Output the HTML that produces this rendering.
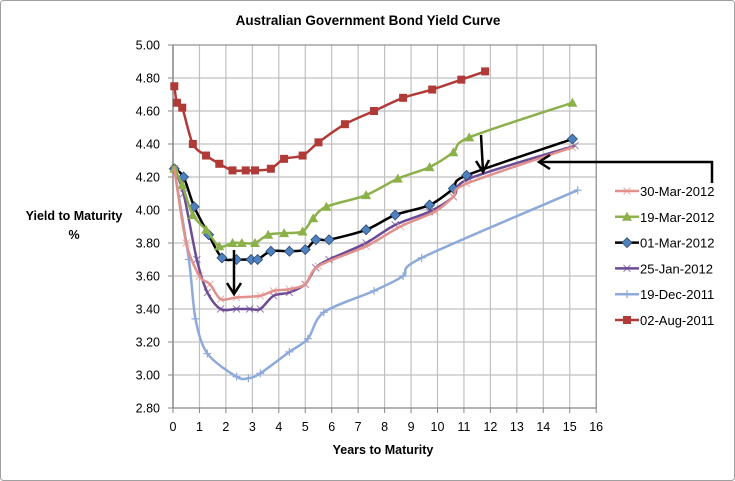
<!DOCTYPE html>
<html><head><meta charset="utf-8"><style>
html,body{margin:0;padding:0;background:#fff}
svg{display:block;font-family:"Liberation Sans",sans-serif}
</style></head><body>
<svg id="s" width="735" height="481" xmlns="http://www.w3.org/2000/svg">
<rect x="0.5" y="0.5" width="734" height="480" rx="3" fill="#fff" stroke="#a0a0a0"/>
<text x="368" y="25" font-size="13.5" font-weight="bold" text-anchor="middle">Australian Government Bond Yield Curve</text>
<g id="grid"></g>
<g id="series"></g>
<text x="74" y="220" font-size="12.5" font-weight="bold" text-anchor="middle">Yield to Maturity</text>
<text x="74" y="239" font-size="12.5" font-weight="bold" text-anchor="middle">%</text>
<text x="383" y="454" font-size="12.5" font-weight="bold" text-anchor="middle">Years to Maturity</text>
<g stroke="#000" stroke-width="2.5" fill="none">
<line x1="234" y1="250" x2="234" y2="293"/><polyline points="227,283 234,294 241,283"/>
<line x1="481" y1="135" x2="483" y2="171"/><polyline points="476,161 483,172 489,160"/>
<polyline points="712,183 712,162 539,162"/><polyline points="550,155 539,162 550,169"/>
</g>
<g id="legend" font-size="13"></g>
</svg>
<script>
const X=t=>173+26.45*t, Y=v=>45+165*(5-v);
const g=document.getElementById('grid'),S=document.getElementById('series'),L=document.getElementById('legend');
let h='';
for(let i=0;i<=16;i++){const x=X(i);h+=`<line x1="${x}" y1="45" x2="${x}" y2="408" stroke="${i==0?'#868686':'#c0c0c0'}" stroke-width="${i==0?1.5:1.2}"/>`;h+=`<line x1="${x}" y1="408" x2="${x}" y2="413" stroke="#868686"/>`;h+=`<text x="${x}" y="431" font-size="12.5" text-anchor="middle">${i}</text>`;}
for(let k=0;k<=11;k++){const v=2.8+k*0.2,y=Y(v);h+=`<line x1="173" y1="${y}" x2="${X(16)}" y2="${y}" stroke="${k==0?'#868686':'#c0c0c0'}" stroke-width="1.2"/>`;h+=`<line x1="168" y1="${y}" x2="173" y2="${y}" stroke="#868686"/>`;h+=`<text x="160" y="${y+4.5}" font-size="12.5" text-anchor="end">${v.toFixed(2)}</text>`;}
h+=`<rect x="173" y="45" width="${X(16)-173}" height="363" fill="none" stroke="#868686"/>`;
g.innerHTML=h;
const data=[
['30-Mar-2012','#e1908b','x',[[0.05,4.25],[0.5,3.80],[1.0,3.60],[1.4,3.55],[1.8,3.46],[2.4,3.47],[3.3,3.48],[3.8,3.51],[4.4,3.52],[5.0,3.55],[5.5,3.66],[7.3,3.78],[8.6,3.90],[9.9,3.99],[10.6,4.08],[11.1,4.16],[15.1,4.38]]],
['19-Mar-2012','#8cb04a','tri',[[0.05,4.25],[0.35,4.15],[0.75,3.97],[1.25,3.88],[1.75,3.78],[2.25,3.80],[2.6,3.80],[3.1,3.80],[3.6,3.85],[4.2,3.86],[4.9,3.87],[5.3,3.95],[5.8,4.02],[7.3,4.09],[8.5,4.19],[9.7,4.26],[10.6,4.35],[11.2,4.44],[15.1,4.65]]],
['01-Mar-2012','#000','dia',[[0.05,4.25],[0.4,4.20],[0.8,4.02],[1.35,3.85],[1.85,3.71],[2.4,3.70],[2.95,3.70],[3.2,3.70],[3.7,3.75],[4.4,3.75],[5.0,3.76],[5.4,3.82],[5.9,3.82],[7.3,3.88],[8.4,3.97],[9.7,4.03],[10.6,4.13],[11.1,4.21],[15.1,4.43]]],
['25-Jan-2012','#6b4b96','x',[[0.05,4.25],[0.4,4.10],[0.9,3.70],[1.3,3.50],[1.8,3.40],[2.4,3.40],[2.9,3.40],[3.3,3.40],[3.8,3.48],[4.4,3.50],[5.0,3.55],[5.4,3.65],[5.9,3.70],[7.3,3.80],[8.4,3.91],[9.7,3.99],[10.6,4.08],[11.2,4.19],[15.2,4.39]]],
['19-Dec-2011','#8eaadb','plus',[[0.05,4.25],[0.6,3.70],[0.85,3.34],[1.3,3.13],[2.4,2.99],[2.85,2.98],[3.3,3.01],[4.4,3.14],[5.1,3.22],[5.7,3.38],[7.6,3.51],[8.7,3.60],[9.4,3.71],[15.3,4.12]]],
['02-Aug-2011','#b03a37','sq',[[0.05,4.75],[0.15,4.65],[0.35,4.62],[0.75,4.40],[1.25,4.33],[1.75,4.28],[2.25,4.24],[2.75,4.24],[3.1,4.24],[3.7,4.25],[4.2,4.31],[4.9,4.33],[5.5,4.41],[6.5,4.52],[7.6,4.60],[8.7,4.68],[9.8,4.73],[10.9,4.79],[11.8,4.84]]]
];
function mk(m,x,y,c){
 if(m=='sq')return `<rect x="${x-4}" y="${y-4}" width="8" height="8" fill="${c}"/>`;
 if(m=='tri')return `<polygon points="${x},${y-5} ${x+5},${y+4} ${x-5},${y+4}" fill="${c}"/>`;
 if(m=='dia')return `<polygon points="${x},${y-5} ${x+5},${y} ${x},${y+5} ${x-5},${y}" fill="#4f81bd" stroke="#1f3f6f" stroke-width="0.7"/>`;
 if(m=='x')return `<path d="M${x-3.5},${y-3.5}L${x+3.5},${y+3.5}M${x-3.5},${y+3.5}L${x+3.5},${y-3.5}" stroke="${c}" stroke-width="1" opacity="0.7"/>`;
 if(m=='plus')return `<path d="M${x-4},${y}L${x+4},${y}M${x},${y-4}L${x},${y+4}" stroke="${c}" stroke-width="1.2"/>`;
 return '';
}
function smooth(p){
 let d=`M${p[0][0]},${p[0][1]}`;const k=1/6*0.9;
 for(let i=0;i<p.length-1;i++){
  const p0=p[i-1]||p[i],p1=p[i],p2=p[i+1],p3=p[i+2]||p2;
  const c1=[p1[0]+(p2[0]-p0[0])*k,p1[1]+(p2[1]-p0[1])*k];
  const c2=[p2[0]-(p3[0]-p1[0])*k,p2[1]-(p3[1]-p1[1])*k];
  d+=`C${c1[0]},${c1[1]} ${c2[0]},${c2[1]} ${p2[0]},${p2[1]}`;
 }
 return d;
}
let s='',l='';
data.slice().reverse().forEach(d=>{
 const p=d[3].map(a=>[X(a[0]),Y(a[1])]);
 s+=`<path d="${smooth(p)}" fill="none" stroke="${d[1]}" stroke-width="2.5" stroke-linejoin="round"/>`;
 p.forEach(a=>s+=mk(d[2],a[0],a[1],d[1]));
});
data.forEach((d,i)=>{const y=191+i*25.8;
 l+=`<line x1="615" y1="${y}" x2="639" y2="${y}" stroke="${d[1]}" stroke-width="2.5"/>`+mk(d[2],627,y,d[1]);
 l+=`<text x="640" y="${y+5}">${d[0]}</text>`;});
S.innerHTML=s;L.innerHTML=l;
</script>
</body></html>
